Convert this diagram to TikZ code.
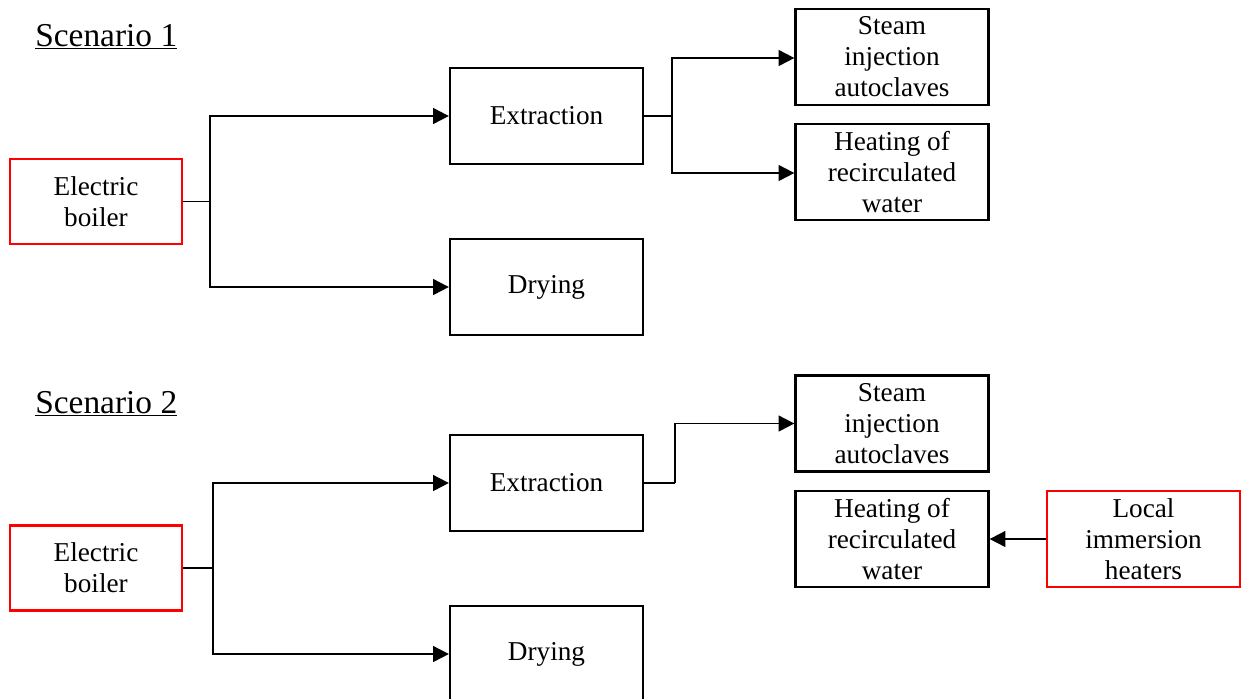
\documentclass[tikz,border=0pt]{standalone}
\usepackage{fontspec}
\setmainfont{Liberation Serif}
\usetikzlibrary{arrows.meta}

\tikzset{
    box/.style={draw=black, line width=1.3pt, minimum width=3.86cm,
        minimum height=1.92cm, align=center, inner sep=1pt},
    src/.style={box, draw=red},
    flow/.style={line width=1.1pt, -{Triangle[length=9pt, width=9pt]}},
    link/.style={line width=1.1pt},
    title/.style={anchor=base west, inner sep=0pt, font=\fontsize{19}{23}\selectfont},
}

\begin{document}
\begin{tikzpicture}[x=0.02cm, y=-0.02cm, font=\fontsize{15.5}{17.6}\selectfont]
    \useasboundingbox (0,0) rectangle (1241,698);
    \clip (0,0) rectangle (1241,698);

    % Scenario 1
    \node[title] (titA) at (35,46) {\underline{Scenario 1}};

    \node[src, minimum width=3.44cm, minimum height=1.7cm] (boilA) at (96,201.5) {Electric\\boiler};
    \node[box] (extA) at (546.5,116) {Extraction};
    \node[box] (dryA) at (546.5,287) {Drying};
    \node[box] (steamA) at (892,57) {Steam\\injection\\autoclaves};
    \node[box] (heatA) at (892,172) {Heating of\\recirculated\\water};

    \coordinate (jA) at (210,201.5);
    \coordinate (kA) at (672,116);
    \draw[link] (boilA) -- (jA);
    \draw[flow] (jA) |- (extA);
    \draw[flow] (jA) |- (dryA);
    \draw[link] (extA) -- (kA);
    \draw[flow] (kA) |- (steamA.west |- 0,58);
    \draw[flow] (kA) |- (heatA.west |- 0,173);

    % Scenario 2
    \node[title] (titB) at (35,413) {\underline{Scenario 2}};

    \node[src, minimum width=3.44cm, minimum height=1.7cm] (boilB) at (96,568) {Electric\\boiler};
    \node[box] (extB) at (546.5,483) {Extraction};
    \node[box] (dryB) at (546.5,654) {Drying};
    \node[box] (steamB) at (892,423.5) {Steam\\injection\\autoclaves};
    \node[box] (heatB) at (892,539) {Heating of\\recirculated\\water};
    \node[src] (locB) at (1143.5,539) {Local\\immersion\\heaters};

    \coordinate (jB) at (213,568);
    \coordinate (kB) at (675,483);
    \draw[link] (boilB) -- (jB);
    \draw[flow] (jB) |- (extB);
    \draw[flow] (jB) |- (dryB);
    \draw[link] (extB) -- (kB);
    \draw[flow] (kB) |- (steamB);
    \draw[flow] (locB) -- (heatB);
\end{tikzpicture}
\end{document}
